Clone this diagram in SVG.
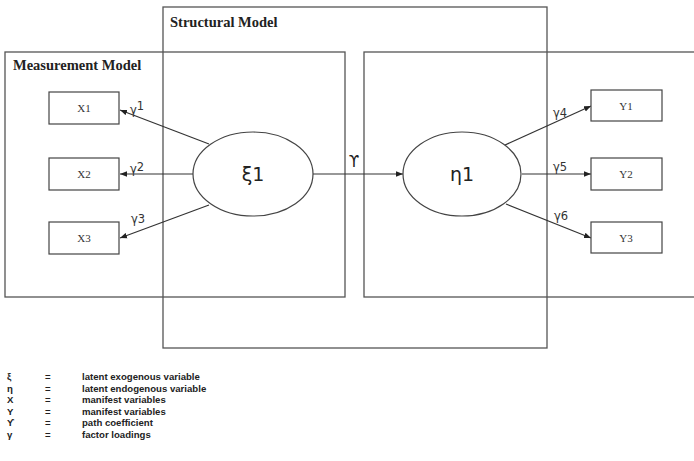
<svg xmlns="http://www.w3.org/2000/svg" width="694" height="461" viewBox="0 0 694 461">
<defs>
<marker id="ah" viewBox="0 0 8 8" refX="8" refY="4" markerWidth="7" markerHeight="7" markerUnits="userSpaceOnUse" orient="auto">
<path d="M0,0.8 L8,4 L0,7.2 Z" fill="#222"/>
</marker>
<style>
.frame{fill:none;stroke:#555;stroke-width:1.3}
.box{fill:#fff;stroke:#444;stroke-width:1.2}
.ell{fill:#fff;stroke:#444;stroke-width:1.2}
.title{font-family:"Liberation Serif",serif;font-weight:bold;font-size:14.5px;fill:#222}
.bl{font-family:"Liberation Serif",serif;font-size:11px;fill:#333;text-anchor:middle}
.lat{font-family:"DejaVu Sans",sans-serif;font-size:19px;fill:#222;text-anchor:middle}
.gl{font-family:"DejaVu Sans",sans-serif;font-size:11.5px;fill:#333}
.conn{stroke:#333;stroke-width:1.2;fill:none;marker-end:url(#ah)}
.leg{font-family:"Liberation Sans",sans-serif;font-weight:bold;font-size:9.6px;fill:#222}
</style>
</defs>
<rect width="694" height="461" fill="#fff"/>
<g id="frames">
<rect class="frame" x="163" y="7" width="384" height="341"/>
<rect class="frame" x="5" y="52" width="340" height="245"/>
<rect class="frame" x="364" y="52" width="340" height="245"/>
<text class="title" x="170" y="27">Structural Model</text>
<text class="title" x="13" y="70">Measurement Model</text>
</g>
<g id="connectors">
<line class="conn" x1="209" y1="144" x2="120" y2="110"/>
<line class="conn" x1="193" y1="174" x2="120" y2="174"/>
<line class="conn" x1="209" y1="205" x2="120" y2="238"/>
<line class="conn" x1="313" y1="174" x2="403" y2="174"/>
<line class="conn" x1="505" y1="145" x2="591" y2="106"/>
<line class="conn" x1="522" y1="174" x2="591" y2="174"/>
<line class="conn" x1="506" y1="204" x2="591" y2="238"/>
<text class="gl" x="130" y="114">γ<tspan dy="-4">1</tspan></text>
<text class="gl" x="130" y="173">γ<tspan dy="-2">2</tspan></text>
<text class="gl" x="131" y="223">γ3</text>
<text class="gl" x="553" y="117">γ4</text>
<text class="gl" x="553" y="171">γ5</text>
<text class="gl" x="554" y="220">γ6</text>
<text class="lat" x="354" y="167" style="font-size:15px">ϒ</text>
</g>
<g id="X1"><rect class="box" x="49" y="92" width="70" height="32"/><text class="bl" x="84" y="112">X1</text></g>
<g id="X2"><rect class="box" x="49" y="158" width="70" height="32"/><text class="bl" x="84" y="178">X2</text></g>
<g id="X3"><rect class="box" x="49" y="222" width="70" height="32"/><text class="bl" x="84" y="242">X3</text></g>
<g id="xi1"><ellipse class="ell" cx="253" cy="174" rx="60" ry="42"/><text class="lat" x="253" y="181">ξ1</text></g>
<g id="eta1"><ellipse class="ell" cx="462" cy="174" rx="59" ry="42"/><text class="lat" x="462" y="181">η1</text></g>
<g id="Y1"><rect class="box" x="591" y="90" width="71" height="31"/><text class="bl" x="626" y="110">Y1</text></g>
<g id="Y2"><rect class="box" x="591" y="158" width="71" height="32"/><text class="bl" x="626" y="178">Y2</text></g>
<g id="Y3"><rect class="box" x="591" y="222" width="71" height="31"/><text class="bl" x="626" y="242">Y3</text></g>
<g id="legend">
<text class="leg" x="7" y="380">ξ</text><text class="leg" x="45" y="380">=</text><text class="leg" x="82" y="380">latent exogenous variable</text>
<text class="leg" x="7" y="391.5">η</text><text class="leg" x="45" y="391.5">=</text><text class="leg" x="82" y="391.5">latent endogenous variable</text>
<text class="leg" x="7" y="403">X</text><text class="leg" x="45" y="403">=</text><text class="leg" x="82" y="403">manifest variables</text>
<text class="leg" x="7" y="414.5">Y</text><text class="leg" x="45" y="414.5">=</text><text class="leg" x="82" y="414.5">manifest variables</text>
<text class="leg" x="7" y="426">ϒ</text><text class="leg" x="45" y="426">=</text><text class="leg" x="82" y="426">path coefficient</text>
<text class="leg" x="7" y="437.5">γ</text><text class="leg" x="45" y="437.5">=</text><text class="leg" x="82" y="437.5">factor loadings</text>
</g>
</svg>
